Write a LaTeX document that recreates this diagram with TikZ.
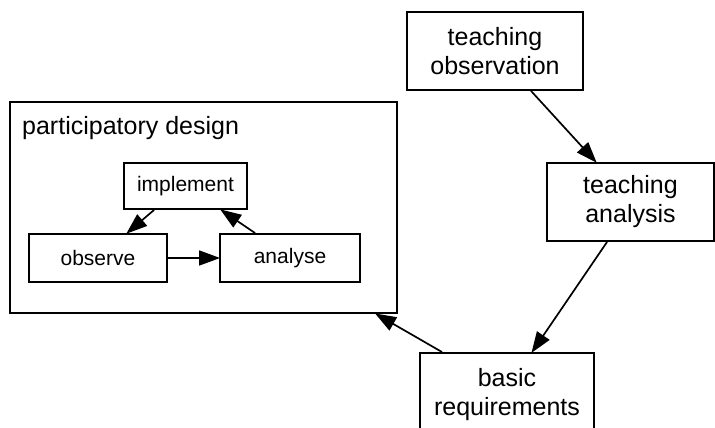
\documentclass[tikz,border=0pt]{standalone}
\usepackage{fontspec}
\setmainfont{Liberation Sans}
\usetikzlibrary{arrows.meta,calc}
\tikzset{
  bigbox/.style={draw,line width=1.9pt,inner sep=0pt,align=center,font=\fontsize{25}{29}\selectfont},
  smallbox/.style={draw,line width=1.9pt,inner sep=0pt,align=center,font=\fontsize{21}{25}\selectfont},
  conn/.style={line width=1.7pt,-{Triangle[length=21pt,width=15pt]},shorten >=-1pt}
}
\begin{document}
\begin{tikzpicture}[x=1pt,y=-1pt]
\useasboundingbox (0,0) rectangle (715,428);
% outer container
\node[draw,line width=1.9pt,minimum width=387pt,minimum height=211pt,inner sep=0pt] (pd) at (203.5,207.5) {};
\node[anchor=base west,inner sep=0pt,font=\fontsize{25}{29}\selectfont] (pdlabel) at (22,134) {participatory design};
% inner boxes
\node[smallbox,minimum width=123pt,minimum height=46pt] (impl) at (185.5,186) {implement};
\node[smallbox,minimum width=138pt,minimum height=48pt] (obs) at (98,258) {observe};
\node[smallbox,minimum width=140pt,minimum height=48pt] (ana) at (290,258) {analyse};
% right boxes
\node[bigbox,minimum width=176pt,minimum height=78pt] (tobs) at (495,51) {teaching\\observation};
\node[bigbox,minimum width=167pt,minimum height=78pt] (tana) at (630.5,202) {teaching\\analysis};
\node[bigbox,minimum width=174pt,minimum height=84pt] (basic) at (507,395) {basic\\requirements};
% connectors
\draw[conn] ([xshift=31pt]impl.south west) -- ([xshift=99pt]obs.north west);
\draw[conn] ([xshift=36pt]ana.north west) -- ([xshift=98pt]impl.south west);
\draw[conn] (obs.east) -- (ana.west);
\draw[conn] ([xshift=125pt]tobs.south west) -- ([xshift=50pt]tana.north west);
\draw[conn] ([xshift=61pt]tana.south west) -- ([xshift=113pt]basic.north west);
\draw[conn] ([xshift=23pt]basic.north west) -- ([xshift=-22pt]pd.south east);
\end{tikzpicture}
\end{document}
